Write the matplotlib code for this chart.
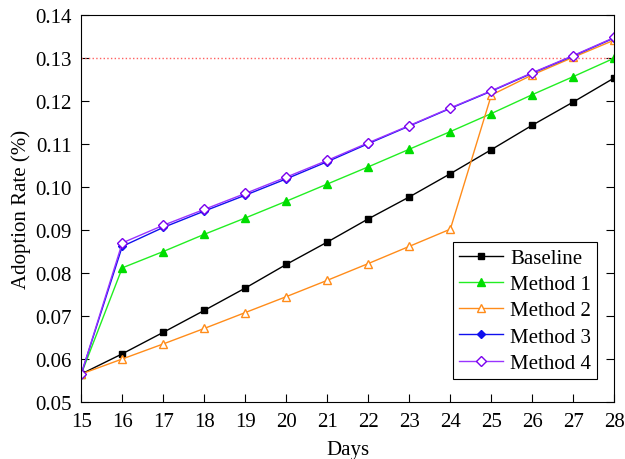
import numpy as np
import matplotlib as mpl
mpl.use("Agg")

import matplotlib.pyplot as plt

mpl.rcParams.update({'font.family': 'Liberation Serif', 'font.size': 15,
                     'mathtext.fontset': 'stix'})

days     = np.arange(15, 29)
baseline = [0.0565, 0.0612, 0.0662, 0.0713, 0.0765, 0.0820, 0.0872, 0.0926,
            0.0977, 0.1031, 0.1087, 0.1144, 0.1198, 0.1254]
method1  = [0.0565, 0.0812, 0.0850, 0.0890, 0.0928, 0.0967, 0.1007, 0.1047,
            0.1088, 0.1129, 0.1171, 0.1215, 0.1257, 0.1300]
method2  = [0.0565, 0.0600, 0.0635, 0.0671, 0.0708, 0.0745, 0.0783, 0.0822,
            0.0862, 0.0902, 0.1214, 0.1261, 0.1302, 0.1342]
method3  = [0.0565, 0.0862, 0.0906, 0.0944, 0.0981, 0.1019, 0.1059, 0.1101,
            0.1142, 0.1183, 0.1223, 0.1265, 0.1305, 0.1347]
method4  = [0.0565, 0.0870, 0.0911, 0.0948, 0.0985, 0.1023, 0.1062, 0.1103,
            0.1143, 0.1184, 0.1224, 0.1266, 0.1306, 0.1348]
target   = 0.13

fig = plt.figure(figsize=(6.25, 4.6), dpi=100)
ax = fig.add_axes([0.130, 0.124, 0.853, 0.841])

ax.plot([days[0], days[-1]], [target, target], ':', color='#ff6060', lw=1)
ax.plot(days, baseline, '-s', color='black', lw=1, ms=5, label='Baseline')
ax.plot(days, method1, '-^', color='#22ee22', lw=1, ms=6,
        mfc='#00dd00', mec='#00dd00', label='Method 1')
ax.plot(days, method2, '-^', color='#ff8c1a', lw=1, ms=6,
        mfc='white', label='Method 2')
ax.plot(days, method3, '-D', color='#1010ee', lw=1, ms=4.5, label='Method 3')
ax.plot(days, method4, '-D', color='#9933ff', lw=1, ms=5,
        mfc='white', mec='#7a00ee', label='Method 4')

ax.set_xlim(15, 28)
ax.set_ylim(0.05, 0.14)
ax.set_xticks(days)
ax.set_yticks(np.arange(0.05, 0.1401, 0.01))
ax.yaxis.set_major_formatter(mpl.ticker.FormatStrFormatter('%.2f'))
ax.tick_params(direction='in', right=True, length=6)
ax.tick_params(axis='x', pad=7)
ax.tick_params(axis='y', pad=7)
ax.set_xlabel('Days', labelpad=7)
ax.set_ylabel('Adoption Rate (%)', labelpad=3)

leg = ax.legend(loc='lower right', fancybox=False, edgecolor='black',
                framealpha=1, borderpad=0.3, labelspacing=0.32,
                handlelength=2.1, handletextpad=0.35, borderaxespad=0,
                bbox_to_anchor=(0.968, 0.059))
leg.get_frame().set_linewidth(0.8)

plt.savefig("out.png")
